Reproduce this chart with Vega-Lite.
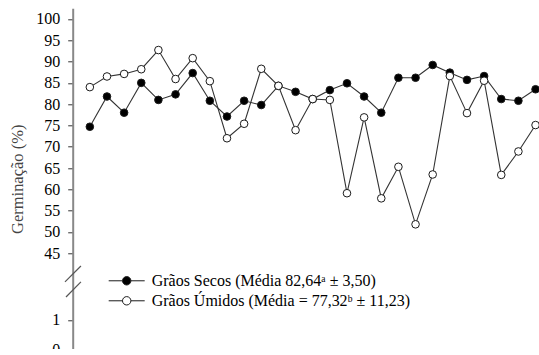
{
  "$schema": "https://vega.github.io/schema/vega-lite/v6.json",
  "width": 480,
  "height": 341,
  "autosize": {"type": "none"},
  "padding": {"left": 72.7, "top": 8.3, "right": 0, "bottom": 0},
  "background": "white",
  "config": {"view": {"stroke": null}, "font": "Liberation Serif, Times New Roman, DejaVu Serif, serif"},
  "datasets": {
    "germ": [
      {"amostra": 1, "serie": "Secos", "g": 74.7},
      {"amostra": 2, "serie": "Secos", "g": 81.8},
      {"amostra": 3, "serie": "Secos", "g": 78.0},
      {"amostra": 4, "serie": "Secos", "g": 85.0},
      {"amostra": 5, "serie": "Secos", "g": 81.0},
      {"amostra": 6, "serie": "Secos", "g": 82.3},
      {"amostra": 7, "serie": "Secos", "g": 87.3},
      {"amostra": 8, "serie": "Secos", "g": 80.8},
      {"amostra": 9, "serie": "Secos", "g": 77.1},
      {"amostra": 10, "serie": "Secos", "g": 80.8},
      {"amostra": 11, "serie": "Secos", "g": 79.8},
      {"amostra": 12, "serie": "Secos", "g": 84.3},
      {"amostra": 13, "serie": "Secos", "g": 82.9},
      {"amostra": 14, "serie": "Secos", "g": 81.2},
      {"amostra": 15, "serie": "Secos", "g": 83.3},
      {"amostra": 16, "serie": "Secos", "g": 84.9},
      {"amostra": 17, "serie": "Secos", "g": 81.8},
      {"amostra": 18, "serie": "Secos", "g": 78.0},
      {"amostra": 19, "serie": "Secos", "g": 86.2},
      {"amostra": 20, "serie": "Secos", "g": 86.2},
      {"amostra": 21, "serie": "Secos", "g": 89.2},
      {"amostra": 22, "serie": "Secos", "g": 87.4},
      {"amostra": 23, "serie": "Secos", "g": 85.7},
      {"amostra": 24, "serie": "Secos", "g": 86.6},
      {"amostra": 25, "serie": "Secos", "g": 81.2},
      {"amostra": 26, "serie": "Secos", "g": 80.8},
      {"amostra": 27, "serie": "Secos", "g": 83.5},
      {"amostra": 1, "serie": "Umidos", "g": 84.0},
      {"amostra": 2, "serie": "Umidos", "g": 86.5},
      {"amostra": 3, "serie": "Umidos", "g": 87.1},
      {"amostra": 4, "serie": "Umidos", "g": 88.2},
      {"amostra": 5, "serie": "Umidos", "g": 92.7},
      {"amostra": 6, "serie": "Umidos", "g": 85.9},
      {"amostra": 7, "serie": "Umidos", "g": 90.8},
      {"amostra": 8, "serie": "Umidos", "g": 85.4},
      {"amostra": 9, "serie": "Umidos", "g": 72.0},
      {"amostra": 10, "serie": "Umidos", "g": 75.4},
      {"amostra": 11, "serie": "Umidos", "g": 88.3},
      {"amostra": 12, "serie": "Umidos", "g": 84.3},
      {"amostra": 13, "serie": "Umidos", "g": 73.9},
      {"amostra": 14, "serie": "Umidos", "g": 81.2},
      {"amostra": 15, "serie": "Umidos", "g": 81.0},
      {"amostra": 16, "serie": "Umidos", "g": 59.1},
      {"amostra": 17, "serie": "Umidos", "g": 76.9},
      {"amostra": 18, "serie": "Umidos", "g": 57.9},
      {"amostra": 19, "serie": "Umidos", "g": 65.3},
      {"amostra": 20, "serie": "Umidos", "g": 51.8},
      {"amostra": 21, "serie": "Umidos", "g": 63.5},
      {"amostra": 22, "serie": "Umidos", "g": 86.6},
      {"amostra": 23, "serie": "Umidos", "g": 77.9},
      {"amostra": 24, "serie": "Umidos", "g": 85.5},
      {"amostra": 25, "serie": "Umidos", "g": 63.4},
      {"amostra": 26, "serie": "Umidos", "g": 68.9},
      {"amostra": 27, "serie": "Umidos", "g": 75.1}
    ],
    "quebra": [
      {"amostra": -0.45, "amostra2": 0.48, "g": 26.1, "g2": 36.6},
      {"amostra": -0.39, "amostra2": 0.48, "g": 16.2, "g2": 26.1}
    ]
  },
  "layer": [
    {
      "data": {"name": "germ"},
      "mark": {"type": "line", "color": "#333333", "strokeWidth": 1.1},
      "encoding": {
        "x": {
          "field": "amostra", "type": "quantitative",
          "scale": {"domain": [0, 28], "nice": false, "zero": false},
          "axis": {
            "values": [1,2,3,4,5,6,7,8,9,10,11,12,13,14,15,16,17,18,19,20,21,22,23,24,25,26,27,28],
            "tickCount": 40,
            "labels": false, "title": null, "grid": false,
            "domainColor": "#888888", "domainWidth": 1.5,
            "tickColor": "#444444",
            "tickSize": {"condition": {"test": "datum.value % 3 === 0", "value": 6}, "value": 4},
            "tickWidth": {"condition": {"test": "datum.value % 3 === 0", "value": 1.4}, "value": 1}
          }
        },
        "y": {
          "field": "g", "type": "quantitative",
          "scale": {"domain": [0, 1, 45, 102.5], "range": [341, 311.7, 245, 0], "nice": false, "zero": false},
          "axis": {
            "values": [0, 1, 45, 50, 55, 60, 65, 70, 75, 80, 85, 90, 95, 100],
            "tickCount": 30,
            "title": "Germinação (%)", "grid": false,
            "labelFont": "Liberation Serif, Times New Roman, DejaVu Serif, serif", "labelFontSize": 16, "labelColor": "#000000",
            "labelPadding": 8, "labelOverlap": false, "labelFlush": false,
            "tickSize": 5, "tickColor": "#333333",
            "domainColor": "#888888", "domainWidth": 2,
            "titleFont": "Liberation Serif, Times New Roman, DejaVu Serif, serif", "titleFontSize": 16.5, "titleFontWeight": "normal",
            "titleColor": "#444444", "titleX": -55, "titleY": 170.5, "titleAngle": -90,
            "titleAlign": "center", "titleBaseline": "middle"
          }
        },
        "detail": {"field": "serie", "type": "nominal"}
      }
    },
    {
      "data": {"name": "germ"},
      "mark": {"type": "circle", "size": 58, "stroke": "#1a1a1a", "strokeWidth": 1, "opacity": 1},
      "encoding": {
        "x": {"field": "amostra", "type": "quantitative", "scale": {"domain": [0, 28], "nice": false, "zero": false}},
        "y": {"field": "g", "type": "quantitative", "scale": {"domain": [0, 1, 45, 102.5], "range": [341, 311.7, 245, 0], "nice": false, "zero": false}},
        "fill": {
          "field": "serie", "type": "nominal",
          "scale": {"domain": ["Secos", "Umidos"], "range": ["#000000", "#ffffff"]},
          "legend": {
            "orient": "none", "legendX": 46, "legendY": 264.5, "title": null, "padding": 0,
            "symbolType": "M-3.6,0H-0.84M0.84,0H3.6M0.84,0A0.84,0.84,0,1,1,-0.84,0A0.84,0.84,0,1,1,0.84,0Z",
            "symbolSize": 100, "symbolStrokeColor": "#1a1a1a", "symbolStrokeWidth": 1, "symbolOpacity": 1,
            "labelFont": "Liberation Serif, Times New Roman, DejaVu Serif, serif", "labelFontSize": 16, "labelColor": "#000000",
            "labelOffset": 17, "rowPadding": 4, "labelLimit": 400,
            "labelExpr": "datum.label == 'Secos' ? 'Grãos Secos (Média 82,64ᵃ ± 3,50)' : 'Grãos Úmidos (Média = 77,32ᵇ ± 11,23)'"
          }
        }
      }
    },
    {
      "data": {"name": "quebra"},
      "mark": {"type": "rule", "color": "#555555", "strokeWidth": 1.2},
      "encoding": {
        "x": {"field": "amostra", "type": "quantitative", "scale": {"domain": [0, 28], "nice": false, "zero": false}},
        "x2": {"field": "amostra2"},
        "y": {"field": "g", "type": "quantitative", "scale": {"domain": [0, 1, 45, 102.5], "range": [341, 311.7, 245, 0], "nice": false, "zero": false}},
        "y2": {"field": "g2"}
      }
    }
  ]
}
